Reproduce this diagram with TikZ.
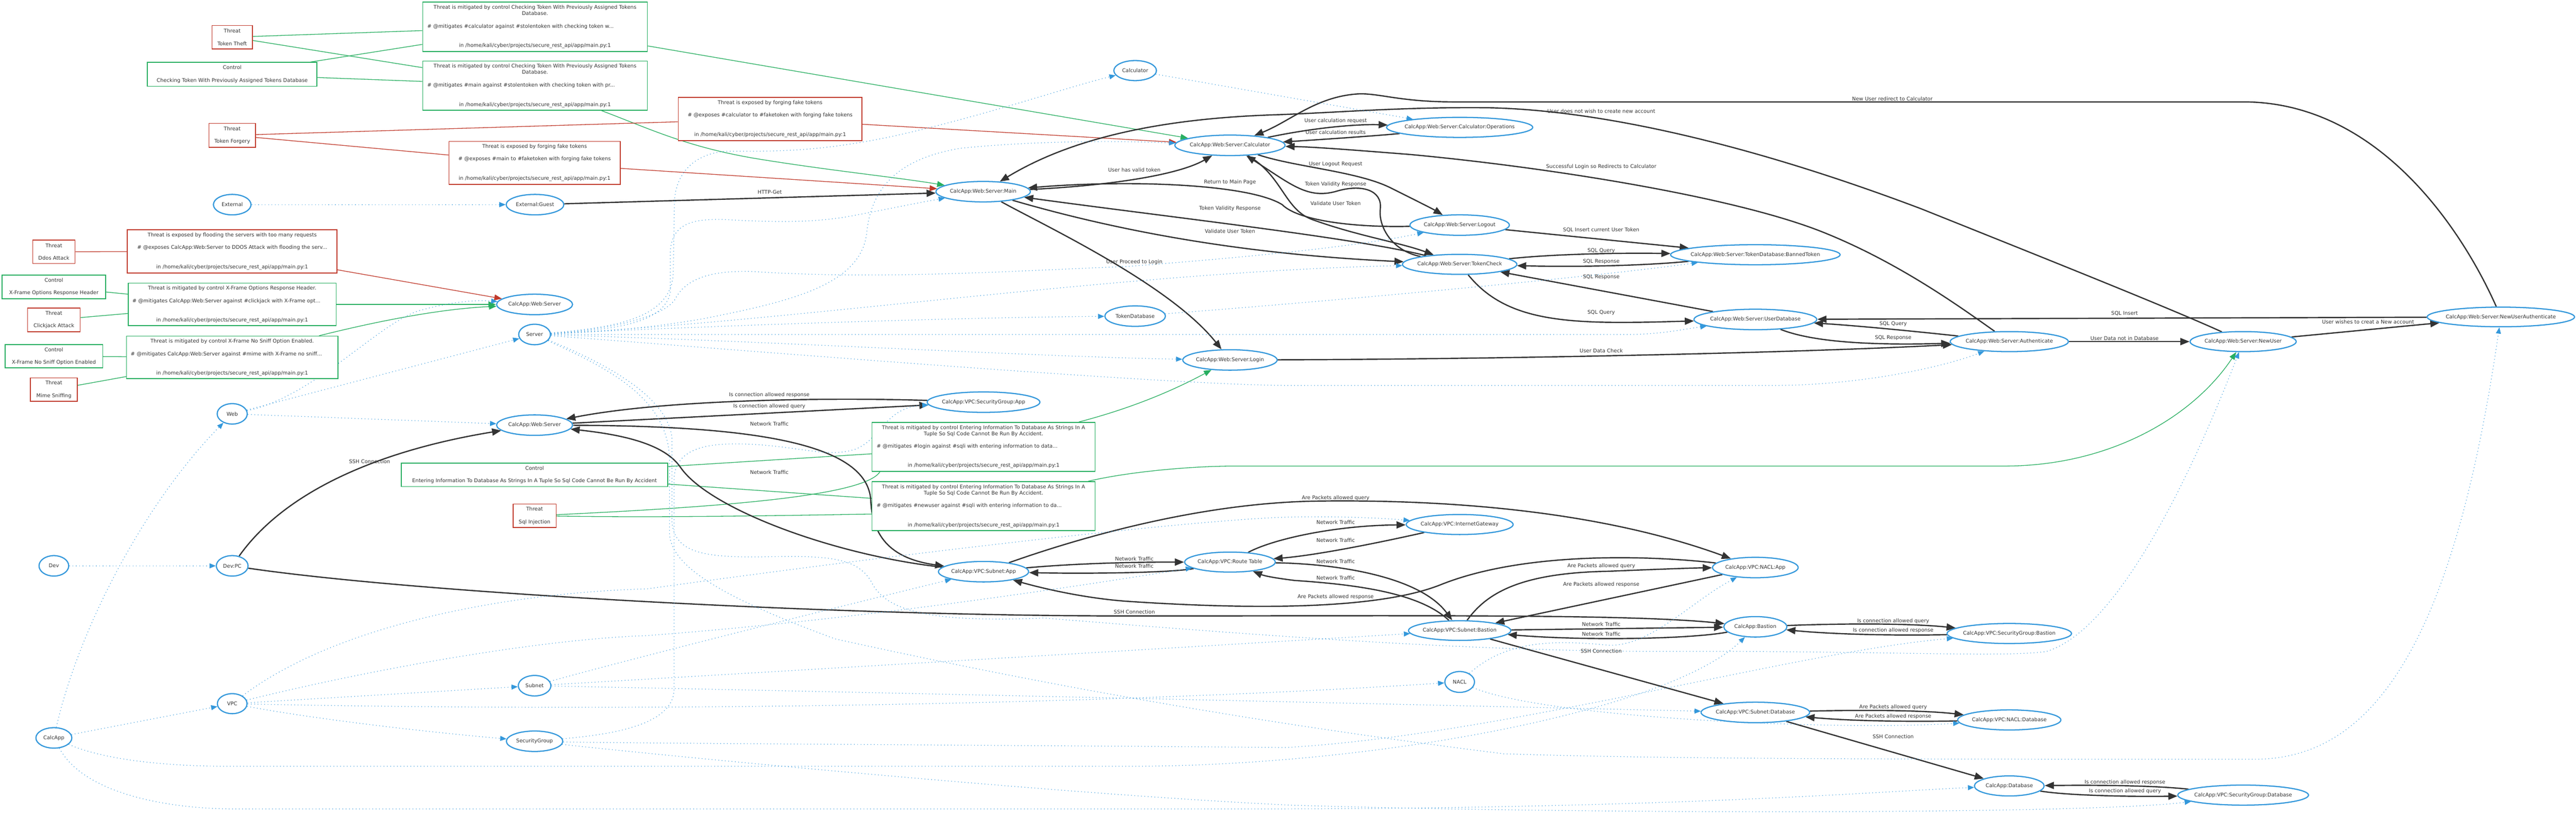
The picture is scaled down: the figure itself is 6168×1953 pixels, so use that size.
\documentclass[tikz,border=0pt]{standalone}
\usepackage{fontspec}
\setmainfont{DejaVu Sans}
\usetikzlibrary{shapes.geometric,arrows.meta,calc}
\definecolor{cblue}{HTML}{3498DB}
\definecolor{cgreen}{HTML}{27AE60}
\definecolor{cred}{HTML}{C0392B}
\definecolor{cdark}{HTML}{333333}
\pgfdeclarelayer{bg}
\pgfsetlayers{bg,main}
\newcommand\nm[1]{\makebox[0pt]{#1}}
\newcommand\lft[2]{\makebox[#1][l]{#2}}
\newcommand\pth{in /home/kali/cyber/projects/secure\_rest\_api/app/main.py:1}
\begin{document}
\begin{tikzpicture}[x=0.1mm,y=-0.1mm,
  every node/.style={font=\fontsize{3.5}{4.27}\selectfont, text=cdark},
  sz/.style 2 args={minimum width=#1*0.1mm, minimum height=#2*0.1mm},
  comp/.style={ellipse, draw=cblue, line width=0.28mm, fill=white, inner sep=0pt},
  threat/.style={rectangle, draw=cred, line width=0.2mm, fill=white, inner sep=0pt, align=center},
  ctrl/.style={rectangle, draw=cgreen, line width=0.2mm, fill=white, inner sep=0pt, align=center},
  flow/.style={draw=cdark, line width=0.3mm, -{Triangle[length=2.2mm,width=1.7mm]}},
  contain/.style={draw=cblue, line width=0.15mm, dash pattern=on 0.15mm off 0.65mm, -{Triangle[length=1.5mm,width=1.2mm]}},
  mitig/.style={draw=cgreen, line width=0.16mm},
  mitigA/.style={mitig, -{Triangle[length=1.8mm,width=1.4mm]}},
  expo/.style={draw=cred, line width=0.16mm},
  expoA/.style={expo, -{Triangle[length=1.8mm,width=1.4mm]}},
  lbl/.style={inner sep=0pt}
]
\useasboundingbox (0,0) rectangle (6168,1953);
% ---------- threat / control boxes ----------
\node[threat, sz={97}{56}] (tTheft) at (556,89) {Threat\\[1.5mm]Token Theft};
\node[ctrl, sz={406}{57}] (cCheck) at (556,178) {Control\\[1.5mm]Checking Token With Previously Assigned Tokens Database};
\node[ctrl, sz={538}{118}] (mCalc) at (1281,64) {Threat is mitigated by control Checking Token With Previously Assigned Tokens\\Database.\\[1.6mm]\lft{51.6mm}{\# @mitigates \#calculator against \#stolentoken with checking token w...}\\[3.1mm]\pth};
\node[ctrl, sz={538}{118}] (mMain) at (1281,205) {Threat is mitigated by control Checking Token With Previously Assigned Tokens\\Database.\\[1.6mm]\lft{51.6mm}{\# @mitigates \#main against \#stolentoken with checking token with pr...}\\[3.1mm]\pth};
\node[threat, sz={112}{57}] (tForge) at (556,324) {Threat\\[1.5mm]Token Forgery};
\node[threat, sz={410}{103}] (eMain) at (1280,390) {Threat is exposed by forging fake tokens\\[1.5mm]\# @exposes \#main to \#faketoken with forging fake tokens\\[3.2mm]\pth};
\node[threat, sz={440}{103}] (eCalc) at (1844,285) {Threat is exposed by forging fake tokens\\[1.5mm]\# @exposes \#calculator to \#faketoken with forging fake tokens\\[3.2mm]\pth};
\node[threat, sz={101}{56}] (tDdos) at (129,603) {Threat\\[1.5mm]Ddos Attack};
\node[threat, sz={502}{103}] (eDdos) at (556,602) {Threat is exposed by flooding the servers with too many requests\\[1.5mm]\# @exposes CalcApp:Web:Server to DDOS Attack with flooding the serv...\\[3.2mm]\pth};
\node[ctrl, sz={248}{57}] (cXfo) at (129,687) {Control\\[1.5mm]X-Frame Options Response Header};
\node[ctrl, sz={498}{102}] (mXfo) at (556,729) {Threat is mitigated by control X-Frame Options Response Header.\\[1.5mm]\lft{47.8mm}{\# @mitigates CalcApp:Web:Server against \#clickjack with X-Frame opt...}\\[3.1mm]\pth};
\node[threat, sz={126}{57}] (tClick) at (129,766) {Threat\\[1.5mm]Clickjack Attack};
\node[ctrl, sz={506}{102}] (mSniff) at (556,856) {Threat is mitigated by control X-Frame No Sniff Option Enabled.\\[1.5mm]\lft{48.6mm}{\# @mitigates CalcApp:Web:Server against \#mime with X-Frame no sniff...}\\[3.1mm]\pth};
\node[ctrl, sz={234}{56}] (cSniff) at (129,853) {Control\\[1.5mm]X-Frame No Sniff Option Enabled};
\node[threat, sz={112}{56}] (tMime) at (129,933) {Threat\\[1.5mm]Mime Sniffing};
\node[ctrl, sz={638}{56}] (cSql) at (1280,1137) {Control\\[1.5mm]Entering Information To Database As Strings In A Tuple So Sql Code Cannot Be Run By Accident};
\node[threat, sz={103}{56}] (tSqli) at (1280,1235) {Threat\\[1.5mm]Sql Injection};
\node[ctrl, sz={534}{117}] (mLogin) at (2355,1070) {Threat is mitigated by control Entering Information To Database As Strings In A\\Tuple So Sql Code Cannot Be Run By Accident.\\[1.5mm]\lft{51.2mm}{\# @mitigates \#login against \#sqli with entering information to data...}\\[3.1mm]\pth};
\node[ctrl, sz={534}{117}] (mNew) at (2355,1212) {Threat is mitigated by control Entering Information To Database As Strings In A\\Tuple So Sql Code Cannot Be Run By Accident.\\[1.5mm]\lft{51.2mm}{\# @mitigates \#newuser against \#sqli with entering information to da...}\\[3.1mm]\pth};
% ---------- components ----------
\node[comp, sz={90}{49}] (external) at (556,490) {\nm{External}};
\node[comp, sz={138}{49}] (guest) at (1281,490) {\nm{External:Guest}};
\node[comp, sz={102}{48}] (calcC) at (2718,169) {\nm{Calculator}};
\node[comp, sz={264}{49}] (calc) at (2945,348) {\nm{CalcApp:Web:Server:Calculator}};
\node[comp, sz={226}{49}] (main) at (2354,459) {\nm{CalcApp:Web:Server:Main}};
\node[comp, sz={350}{48}] (ops) at (3495,305) {\nm{CalcApp:Web:Server:Calculator:Operations}};
\node[comp, sz={238}{49}] (logout) at (3495,539) {\nm{CalcApp:Web:Server:Logout}};
\node[comp, sz={274}{48}] (tcheck) at (3495,633) {\nm{CalcApp:Web:Server:TokenCheck}};
\node[comp, sz={406}{48}] (banned) at (4203,610) {\nm{CalcApp:Web:Server:TokenDatabase:BannedToken}};
\node[comp, sz={182}{49}] (wsA) at (1280,729) {\nm{CalcApp:Web:Server}};
\node[comp, sz={76}{49}] (server) at (1280,801) {\nm{Server}};
\node[comp, sz={72}{49}] (web) at (556,991) {\nm{Web}};
\node[comp, sz={182}{49}] (wsB) at (1280,1018) {\nm{CalcApp:Web:Server}};
\node[comp, sz={145}{49}] (tokdb) at (2718,757) {\nm{TokenDatabase}};
\node[comp, sz={226}{49}] (login) at (2945,862) {\nm{CalcApp:Web:Server:Login}};
\node[comp, sz={270}{49}] (sgApp) at (2355,963) {\nm{CalcApp:VPC:SecurityGroup:App}};
\node[comp, sz={294}{49}] (userdb) at (4203,765) {\nm{CalcApp:Web:Server:UserDatabase}};
\node[comp, sz={283}{48}] (authn) at (4811,818) {\nm{CalcApp:Web:Server:Authenticate}};
\node[comp, sz={254}{48}] (newuser) at (5371,818) {\nm{CalcApp:Web:Server:NewUser}};
\node[comp, sz={353}{47}] (nuauth) at (5988,759) {\nm{CalcApp:Web:Server:NewUserAuthenticate}};
\node[comp, sz={71}{49}] (dev) at (129,1355) {\nm{Dev}};
\node[comp, sz={76}{49}] (devpc) at (556,1355) {\nm{Dev:PC}};
\node[comp, sz={71}{48}] (vpc) at (556,1685) {\nm{VPC}};
\node[comp, sz={86}{49}] (calcapp) at (129,1767) {\nm{CalcApp}};
\node[comp, sz={78}{49}] (subnet) at (1280,1642) {\nm{Subnet}};
\node[comp, sz={135}{49}] (sg) at (1280,1775) {\nm{SecurityGroup}};
\node[comp, sz={216}{49}] (snApp) at (2355,1369) {\nm{CalcApp:VPC:Subnet:App}};
\node[comp, sz={217}{48}] (rt) at (2945,1346) {\nm{CalcApp:VPC:Route Table}};
\node[comp, sz={256}{48}] (igw) at (3495,1256) {\nm{CalcApp:VPC:InternetGateway}};
\node[comp, sz={205}{49}] (naclApp) at (4203,1359) {\nm{CalcApp:VPC:NACL:App}};
\node[comp, sz={245}{47}] (snBast) at (3495,1510) {\nm{CalcApp:VPC:Subnet:Bastion}};
\node[comp, sz={151}{49}] (bastion) at (4203,1501) {\nm{CalcApp:Bastion}};
\node[comp, sz={71}{50}] (nacl) at (3495,1633) {\nm{NACL}};
\node[comp, sz={260}{49}] (snDb) at (4203,1706) {\nm{CalcApp:VPC:Subnet:Database}};
\node[comp, sz={298}{48}] (sgBast) at (4811,1517) {\nm{CalcApp:VPC:SecurityGroup:Bastion}};
\node[comp, sz={247}{48}] (naclDb) at (4811,1724) {\nm{CalcApp:VPC:NACL:Database}};
\node[comp, sz={167}{48}] (database) at (4811,1882) {\nm{CalcApp:Database}};
\node[comp, sz={313}{48}] (sgDb) at (5371,1904) {\nm{CalcApp:VPC:SecurityGroup:Database}};
% ---------- edge labels ----------
\node[lbl] (l01) at (1843,460) {HTTP-Get};
\node[lbl] (l02) at (2716,407) {User has valid token};
\node[lbl] (l03) at (2945,436) {Return to Main Page};
\node[lbl] (l04) at (2945,499) {Token Validity Response};
\node[lbl] (l05) at (2945,554) {Validate User Token};
\node[lbl] (l06) at (2716,627) {User Proceed to Login};
\node[lbl] (l07) at (4531,236) {New User redirect to Calculator};
\node[lbl] (l08) at (3834,266) {User does not wish to create new account};
\node[lbl] (l09) at (3198,289) {User calculation request};
\node[lbl] (l10) at (3198,317) {User calculation results};
\node[lbl] (l11) at (3198,393) {User Logout Request};
\node[lbl] (l12) at (3834,399) {Successful Login so Redirects to Calculator};
\node[lbl] (l13) at (3198,441) {Token Validity Response};
\node[lbl] (l14) at (3198,487) {Validate User Token};
\node[lbl] (l15) at (3834,551) {SQL Insert current User Token};
\node[lbl] (l16) at (3834,601) {SQL Query};
\node[lbl] (l17) at (3834,627) {SQL Response};
\node[lbl] (l18) at (3834,664) {SQL Response};
\node[lbl] (l19) at (3834,748) {SQL Query};
\node[lbl] (l20) at (4533,776) {SQL Query};
\node[lbl] (l21) at (4533,809) {SQL Response};
\node[lbl] (l22) at (3834,840) {User Data Check};
\node[lbl] (l23) at (5087,751) {SQL Insert};
\node[lbl] (l24) at (5087,810) {User Data not in Database};
\node[lbl] (l25) at (5670,771) {User wishes to creat a New account};
\node[lbl] (l26) at (885,1105) {SSH Connection};
\node[lbl] (l27) at (1842,946) {Is connection allowed response};
\node[lbl] (l28) at (1842,973) {Is connection allowed query};
\node[lbl] (l29) at (1842,1015) {Network Traffic};
\node[lbl] (l30) at (1842,1131) {Network Traffic};
\node[lbl] (l31) at (2716,1338) {Network Traffic};
\node[lbl] (l32) at (2716,1356) {Network Traffic};
\node[lbl] (l33) at (2716,1465) {SSH Connection};
\node[lbl] (l34) at (3198,1193) {Are Packets allowed query};
\node[lbl] (l35) at (3198,1250) {Network Traffic};
\node[lbl] (l36) at (3198,1294) {Network Traffic};
\node[lbl] (l37) at (3198,1344) {Network Traffic};
\node[lbl] (l38) at (3198,1384) {Network Traffic};
\node[lbl] (l39) at (3198,1430) {Are Packets allowed response};
\node[lbl] (l40) at (3834,1355) {Are Packets allowed query};
\node[lbl] (l41) at (3834,1400) {Are Packets allowed response};
\node[lbl] (l42) at (3834,1495) {Network Traffic};
\node[lbl] (l43) at (3834,1518) {Network Traffic};
\node[lbl] (l44) at (3834,1559) {SSH Connection};
\node[lbl] (l45) at (4533,1488) {Is connection allowed query};
\node[lbl] (l46) at (4533,1510) {Is connection allowed response};
\node[lbl] (l47) at (4533,1694) {Are Packets allowed query};
\node[lbl] (l48) at (4533,1716) {Are Packets allowed response};
\node[lbl] (l49) at (4533,1764) {SSH Connection};
\node[lbl] (l50) at (5088,1873) {Is connection allowed response};
\node[lbl] (l51) at (5088,1895) {Is connection allowed query};
% ---------- edges ----------
\begin{pgfonlayer}{bg}
\fill[white] (0,0) rectangle (6168,1953);
% mitigations / exposures
\draw[mitig] (tTheft) -- (mCalc);
\draw[mitig] (tTheft) -- (mMain);
\draw[mitig] (cCheck) -- (mCalc);
\draw[mitig] (cCheck) -- (mMain);
\draw[mitigA] (mCalc) -- (calc);
\draw[mitigA] (mMain) .. controls (1560,310) and (1650,355) .. (1830,383) .. controls (2000,410) and (2150,425) .. (main);
\draw[expo] (tForge) -- (eCalc);
\draw[expo] (tForge) -- (eMain);
\draw[expoA] (eCalc) -- (calc);
\draw[expoA] (eMain) -- (main);
\draw[expo] (tDdos) -- (eDdos);
\draw[expoA] (eDdos) -- (wsA);
\draw[mitig] (cXfo) -- (mXfo);
\draw[mitig] (tClick) -- (mXfo);
\draw[mitigA] (mXfo) -- (wsA);
\draw[mitig] (cSniff) -- (mSniff);
\draw[mitig] (tMime) -- (mSniff);
\draw[mitigA] (mSniff) .. controls (900,770) and (1050,740) .. (wsA);
\draw[mitig] (cSql) -- (mLogin);
\draw[mitig] (cSql) -- (mNew);
\draw[mitig] (tSqli) .. controls (1700,1215) and (2070,1190) .. ($(mLogin.south west)+(20,0)$);
\draw[mitig] (tSqli) .. controls (1600,1240) and (1900,1234) .. ($(mNew.west)+(0,19)$);
\draw[mitigA] (mLogin) .. controls (2700,980) and (2800,940) .. (login);
\draw[mitigA] (mNew) .. controls (2700,1130) and (2850,1116) .. (2960,1116) -- (4800,1116) .. controls (5050,1116) and (5250,1000) .. (newuser);
% application flows
\draw[flow] (guest) -- (main);
\draw[flow] (main) .. controls (2650,445) and (2820,420) .. (calc);
\draw[flow] (newuser) .. controls (5200,740) and (4900,620) .. (4600,500) .. controls (4150,330) and (3800,262) .. (3560,258) .. controls (3350,256) and (3200,270) .. (3050,275) .. controls (2750,285) and (2550,340) .. (main);
\draw[flow] (nuauth) .. controls (5900,560) and (5700,244) .. (5371,244) -- (3480,244) .. controls (3350,244) and (3300,222) .. (3250,225) .. controls (3150,232) and (3090,290) .. (calc);
\draw[flow] (calc) .. controls (3150,305) and (3250,297) .. (ops);
\draw[flow] (ops) .. controls (3300,325) and (3150,335) .. (calc);
\draw[flow] (authn) .. controls (4700,740) and (4550,630) .. (4365,556) .. controls (4150,470) and (3700,400) .. (3377,370) .. controls (3250,360) and (3150,352) .. (calc);
\draw[flow] (calc) .. controls (3100,400) and (3250,410) .. (3330,450) .. controls (3380,475) and (3430,500) .. (logout);
\draw[flow] (tcheck) .. controls (3330,600) and (3300,540) .. (3305,500) .. controls (3310,455) and (3260,440) .. (3200,458) .. controls (3130,478) and (3090,440) .. (calc);
\draw[flow] (calc) .. controls (3070,420) and (3075,500) .. (3140,525) .. controls (3250,565) and (3350,580) .. (tcheck);
\draw[flow] (logout) .. controls (3250,545) and (3110,530) .. (3070,490) .. controls (2990,440) and (2700,430) .. (main);
\draw[flow] (tcheck) .. controls (3250,570) and (2800,520) .. (main);
\draw[flow] (main) .. controls (2700,560) and (3000,610) .. (tcheck);
\draw[flow] (main) .. controls (2500,540) and (2800,680) .. (login);
\draw[flow] (logout) -- (banned);
\draw[flow] (tcheck) .. controls (3700,610) and (3850,605) .. (banned);
\draw[flow] (banned) .. controls (3950,635) and (3800,640) .. (tcheck);
\draw[flow] (userdb) -- (tcheck);
\draw[flow] (tcheck) .. controls (3590,750) and (3700,772) .. (3880,772) .. controls (3950,772) and (4000,770) .. (userdb);
\draw[flow] (authn) .. controls (4600,795) and (4450,780) .. (userdb);
\draw[flow] (userdb) .. controls (4330,815) and (4450,828) .. (authn);
\draw[flow] (nuauth) -- (userdb);
\draw[flow] (login) .. controls (3600,860) and (4300,845) .. (authn);
\draw[flow] (authn) -- (newuser);
\draw[flow] (newuser) -- (nuauth);
% network flows
\draw[flow] (devpc) .. controls (680,1180) and (900,1080) .. (wsB);
\draw[flow] (devpc) .. controls (1000,1420) and (2000,1475) .. (2700,1475) .. controls (3400,1475) and (3900,1470) .. (bastion);
\draw[flow] (wsB) -- (sgApp);
\draw[flow] (sgApp) .. controls (2000,952) and (1600,955) .. (wsB);
\draw[flow] (wsB) .. controls (1800,1020) and (2080,1060) .. (2085,1200) .. controls (2090,1300) and (2150,1340) .. (snApp);
\draw[flow] (snApp) .. controls (2000,1330) and (1700,1220) .. (1630,1120) .. controls (1590,1060) and (1480,1040) .. (wsB);
\draw[flow] (snApp) .. controls (2600,1347) and (2750,1346) .. (rt);
\draw[flow] (rt) .. controls (2800,1372) and (2600,1374) .. (snApp);
\draw[flow] (rt) .. controls (3050,1290) and (3200,1258) .. (igw);
\draw[flow] (igw) .. controls (3300,1300) and (3150,1330) .. (rt);
\draw[flow] (rt) .. controls (3200,1350) and (3400,1380) .. (snBast);
\draw[flow] (snBast) .. controls (3400,1420) and (3250,1400) .. (3100,1390) .. controls (3060,1385) and (3030,1380) .. (rt);
\draw[flow] (snApp) .. controls (2550,1300) and (2850,1205) .. (3150,1200) .. controls (3500,1195) and (3850,1230) .. (naclApp);
\draw[flow] (naclApp) .. controls (3950,1330) and (3650,1320) .. (3450,1400) .. controls (3300,1460) and (3000,1460) .. (2700,1440) .. controls (2600,1433) and (2500,1410) .. (snApp);
\draw[flow] (snBast) .. controls (3560,1420) and (3640,1372) .. (3850,1368) .. controls (3950,1364) and (4050,1360) .. (naclApp);
\draw[flow] (naclApp) -- (snBast);
\draw[flow] (snBast) -- (bastion);
\draw[flow] (bastion) .. controls (4050,1530) and (3800,1535) .. (snBast);
\draw[flow] (snBast) -- (snDb);
\draw[flow] (bastion) .. controls (4350,1495) and (4550,1490) .. (sgBast);
\draw[flow] (sgBast) .. controls (4550,1522) and (4400,1520) .. (bastion);
\draw[flow] (snDb) .. controls (4450,1700) and (4600,1700) .. (naclDb);
\draw[flow] (naclDb) .. controls (4600,1728) and (4450,1728) .. (snDb);
\draw[flow] (snDb) -- (database);
\draw[flow] (database) .. controls (4950,1905) and (5100,1908) .. (sgDb);
\draw[flow] (sgDb) .. controls (5150,1880) and (5000,1880) .. (database);
% containment (dotted)
\draw[contain] (external) -- (guest);
\draw[contain] (dev) -- (devpc);
\draw[contain] (calcapp) -- (vpc);
\draw[contain] (calcapp) .. controls (190,1500) and (350,1200) .. (web);
\draw[contain] (calcapp) .. controls (250,1820) and (400,1835) .. (550,1835) -- (2700,1835) .. controls (3300,1835) and (4000,1700) .. (bastion);
\draw[contain] (calcapp) .. controls (200,1900) and (400,1937) .. (560,1937) -- (3000,1937) .. controls (4000,1937) and (4500,1895) .. (database);
\draw[contain] (web) -- (server);
\draw[contain] (web) .. controls (750,950) and (900,780) .. (1000,745) .. controls (1080,722) and (1140,718) .. (wsA);
\draw[contain] (web) -- (wsB);
\draw[contain] (server) .. controls (1450,790) and (1590,780) .. (1605,700) -- (1605,600) .. controls (1610,540) and (1650,522) .. (1740,526) .. controls (1850,532) and (1950,535) .. (2050,515) .. controls (2130,500) and (2200,485) .. (main);
\draw[contain] (server) .. controls (1450,785) and (1612,770) .. (1612,650) -- (1615,480) .. controls (1620,400) and (1680,362) .. (1750,362) .. controls (1850,362) and (1950,365) .. (2130,328) .. controls (2350,280) and (2550,210) .. (calcC);
\draw[contain] (server) .. controls (1450,795) and (1600,780) .. (1700,760) .. controls (1900,720) and (2060,680) .. (2075,560) .. controls (2085,450) and (2150,380) .. (2300,355) .. controls (2500,335) and (2700,338) .. (calc);
\draw[contain] (server) .. controls (1700,780) and (2300,760) .. (tokdb);
\draw[contain] (server) .. controls (1800,815) and (2500,855) .. (login);
\draw[contain] (server) -- (3900,801) .. controls (3980,800) and (4020,790) .. (userdb);
\draw[contain] (server) .. controls (1800,840) and (2800,923) .. (3090,923) -- (4246,923) .. controls (4450,923) and (4650,880) .. (authn);
\draw[contain] (server) .. controls (1450,790) and (1600,760) .. (1620,710) .. controls (1650,660) and (1720,648) .. (1800,650) .. controls (2100,670) and (2400,650) .. (2700,638) .. controls (3000,615) and (3250,590) .. (logout);
\draw[contain] (server) .. controls (1900,770) and (2700,650) .. (tcheck);
\draw[contain] (server) .. controls (1450,870) and (1600,950) .. (1609,1050) -- (1609,1250) .. controls (1615,1330) and (1700,1336) .. (1850,1333) .. controls (2000,1330) and (2060,1340) .. (2090,1400) .. controls (2130,1470) and (2250,1490) .. (2500,1480) .. controls (3000,1520) and (3500,1560) .. (4000,1560) .. controls (4500,1558) and (4800,1575) .. (4900,1560) .. controls (5100,1500) and (5300,1000) .. (newuser);
\draw[contain] (server) .. controls (1450,880) and (1600,950) .. (1603,1100) -- (1603,1280) .. controls (1610,1350) and (1700,1420) .. (2000,1530) .. controls (2500,1640) and (3000,1730) .. (3600,1805) .. controls (4000,1818) and (4500,1818) .. (5400,1818) .. controls (5700,1818) and (5880,1500) .. (nuauth);
\draw[contain] (calcC) -- (ops);
\draw[contain] (tokdb) .. controls (3200,720) and (3800,665) .. (banned);
\draw[contain] (vpc) -- (subnet);
\draw[contain] (vpc) .. controls (800,1730) and (1100,1760) .. (sg);
\draw[contain] (vpc) .. controls (1500,1705) and (2600,1690) .. (nacl);
\draw[contain] (vpc) .. controls (900,1600) and (1300,1530) .. (1550,1522) .. controls (2100,1480) and (2600,1400) .. (rt);
\draw[contain] (vpc) .. controls (800,1500) and (1200,1420) .. (1550,1410) .. controls (2200,1320) and (2900,1240) .. (3100,1238) .. controls (3200,1236) and (3300,1240) .. (igw);
\draw[contain] (subnet) .. controls (1500,1580) and (2100,1430) .. (snApp);
\draw[contain] (subnet) .. controls (2000,1600) and (3000,1540) .. (snBast);
\draw[contain] (subnet) .. controls (2200,1660) and (3500,1690) .. (snDb);
\draw[contain] (sg) .. controls (1450,1760) and (1614,1740) .. (1614,1650) -- (1614,1150) .. controls (1614,1080) and (1680,1063) .. (1760,1063) .. controls (1900,1063) and (1980,1100) .. (2050,1075) .. controls (2110,1050) and (2120,975) .. (sgApp);
\draw[contain] (sg) .. controls (1500,1780) and (2500,1785) .. (3080,1790) .. controls (3600,1760) and (4300,1560) .. (sgBast);
\draw[contain] (sg) .. controls (1500,1800) and (2500,1900) .. (3090,1928) .. controls (3800,1950) and (5000,1950) .. (sgDb);
\draw[contain] (nacl) .. controls (3600,1540) and (3700,1530) .. (3850,1545) .. controls (3950,1550) and (4050,1440) .. (naclApp);
\draw[contain] (nacl) .. controls (3700,1720) and (4400,1750) .. (naclDb);
\end{pgfonlayer}
\end{tikzpicture}
\end{document}
